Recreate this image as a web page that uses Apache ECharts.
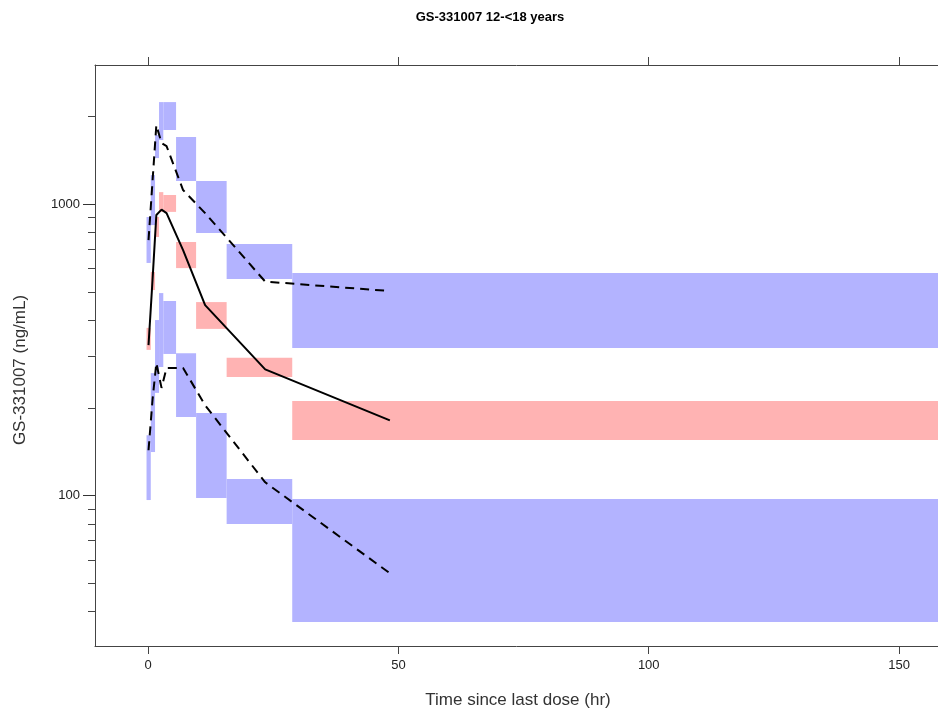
<!DOCTYPE html>
<html>
<head>
<meta charset="utf-8">
<title>GS-331007 12-&lt;18 years</title>
<script src="https://cdn.jsdelivr.net/npm/echarts@6.0.0/dist/echarts.min.js"></script>
<style>
  html, body { margin: 0; padding: 0; background: #fff; }
  #chart { width: 938px; height: 713px; }
</style>
</head>
<body>
<div id="chart"></div>
<script>
// time bins (hr)
const binLo = [-0.3, 0.55, 1.4, 2.2, 3.05, 5.6, 9.6, 15.7, 28.8];
const binHi = [0.55, 1.4, 2.2, 3.05, 5.6, 9.6, 15.7, 28.8, 170];

// simulated prediction intervals per bin (ng/mL)
const upperLo = [628, 847, 1438, 1658, 1795, 1199, 795, 553, 321];
const upperHi = [903, 1257, 1725, 2238, 2238, 1697, 1199, 729, 580];
const medLo = [316, 507, 771, 939, 940, 603, 373, 255, 155];
const medHi = [376, 585, 903, 1099, 1074, 741, 461, 297, 211];
const lowerLo = [96.5, 141, 225, 276, 306, 186, 98, 79.8, 36.8];
const lowerHi = [161, 263, 400, 495, 465, 308, 192, 114, 97.3];

// observed percentiles
const obsTime = [0.1, 0.9, 1.66, 2.7, 3.7, 7.0, 11.4, 23.4, 48.3];
const obsP95 = [752, 1199, 1866, 1620, 1581, 1117, 931, 542, 503];
const obsP50 = [328, 549, 917, 957, 931, 695, 450, 271, 181];
const obsP05 = [143, 213, 285, 234, 274, 274, 204, 111, 54.1];

// axis ticks
const xTicks = [0, 50, 100, 150];
const yMajor = [100, 1000];
const yMinor = [40, 50, 60, 70, 80, 90, 200, 300, 400, 500, 600, 700, 800, 900, 2000];

const FONT = "'Liberation Sans', Arial, sans-serif";
const AXIS_COL = '#444';
const X_MIN = -10.59, X_MAX = 157.77;

const bandData = (lo, hi) => binLo.map((b, i) => [b, binHi[i], lo[i], hi[i]]);
const lineData = (vals) => obsTime.map((t, i) => [t, vals[i]]);

function bandItem(params, api) {
  const p1 = api.coord([api.value(0), api.value(3)]);
  const p2 = api.coord([api.value(1), api.value(2)]);
  const cs = params.coordSys;
  const rect = echarts.graphic.clipRectByRect(
    { x: p1[0], y: p1[1], width: p2[0] - p1[0], height: p2[1] - p1[1] },
    { x: cs.x, y: cs.y, width: cs.width, height: cs.height }
  );
  return rect && { type: 'rect', shape: rect, style: { fill: api.visual('color') } };
}

function band(name, lo, hi, color) {
  return {
    name: name,
    type: 'custom',
    renderItem: bandItem,
    encode: { x: [0, 1], y: [2, 3] },
    itemStyle: { color: color },
    data: bandData(lo, hi),
    z: 1
  };
}

function obsLine(name, vals, dashed) {
  return {
    name: name,
    type: 'line',
    data: lineData(vals),
    symbol: 'none',
    lineStyle: { color: '#000', width: 2, type: dashed ? [9, 6] : 'solid' },
    z: 5
  };
}

const chart = echarts.init(document.getElementById('chart'));
chart.setOption({
  animation: false,
  backgroundColor: '#fff',
  grid: { left: 95, top: 65, bottom: 67, right: 0 },
  xAxis: [
    {
      type: 'value', position: 'bottom', min: X_MIN, max: X_MAX,
      axisLine: { show: true, onZero: false, lineStyle: { color: AXIS_COL, width: 1 } },
      axisTick: { show: true, customValues: xTicks, length: 8, lineStyle: { color: AXIS_COL } },
      axisLabel: { customValues: xTicks, margin: 13, color: '#222', fontSize: 13, fontFamily: FONT },
      splitLine: { show: false }
    },
    {
      type: 'value', position: 'top', min: X_MIN, max: X_MAX,
      axisLine: { show: true, onZero: false, lineStyle: { color: AXIS_COL, width: 1 } },
      axisTick: { show: true, customValues: xTicks, length: 8, lineStyle: { color: AXIS_COL } },
      axisLabel: { show: false },
      splitLine: { show: false }
    }
  ],
  yAxis: [
    {
      type: 'log', position: 'left', min: 30.46, max: 3000,
      axisLine: { show: true, onZero: false, lineStyle: { color: AXIS_COL, width: 1 } },
      axisTick: { show: true, customValues: yMinor, length: 7, lineStyle: { color: AXIS_COL } },
      axisLabel: { show: false },
      splitLine: { show: false }
    },
    {
      type: 'log', position: 'left', min: 30.46, max: 3000,
      axisLine: { show: false, onZero: false },
      axisTick: { show: true, customValues: yMajor, length: 12, lineStyle: { color: '#333' } },
      axisLabel: {
        customValues: yMajor, margin: 15, color: '#222', fontSize: 13, fontFamily: FONT,
        formatter: (v) => String(Math.round(v))
      },
      splitLine: { show: false }
    }
  ],
  graphic: [
    {
      type: 'text', x: 490, y: 17,
      style: { text: 'GS-331007 12-<18 years', font: 'bold 13px ' + FONT, fill: '#000', align: 'center', verticalAlign: 'middle' }
    },
    {
      type: 'text', x: 518, y: 700,
      style: { text: 'Time since last dose (hr)', font: '17px ' + FONT, fill: '#333', align: 'center', verticalAlign: 'middle' }
    },
    {
      type: 'text', x: 20, y: 370, rotation: Math.PI / 2,
      style: { text: 'GS-331007 (ng/mL)', font: '17px ' + FONT, fill: '#333', align: 'center', verticalAlign: 'middle' }
    }
  ],
  series: [
    band('upper PI', upperLo, upperHi, '#b3b3ff'),
    band('median PI', medLo, medHi, '#ffb3b3'),
    band('lower PI', lowerLo, lowerHi, '#b3b3ff'),
    obsLine('95th', obsP95, true),
    obsLine('median', obsP50, false),
    obsLine('5th', obsP05, true)
  ]
});
</script>
</body>
</html>
